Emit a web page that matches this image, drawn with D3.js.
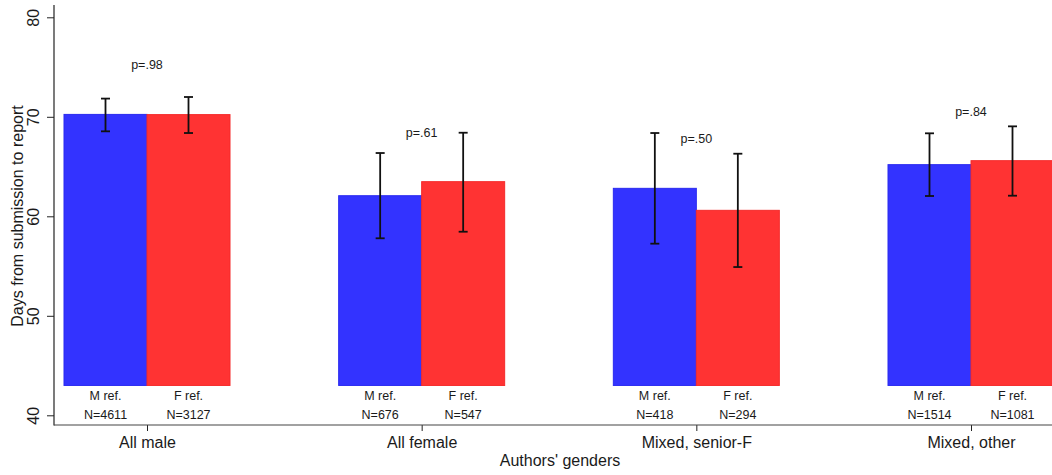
<!DOCTYPE html>
<html><head><meta charset="utf-8">
<script src="https://cdn.jsdelivr.net/npm/d3@7"></script>
<style>body{margin:0;background:#fff}svg{display:block}text{font-family:"Liberation Sans",Arial,sans-serif;fill:#1a1a1a}</style>
</head><body><svg id="c" width="1052" height="475"></svg>
<script>
const categories = ["All male","All female","Mixed, senior-F","Mixed, other"];
const refLabels = ["M ref.","F ref."];
const mRefMean = [70.24, 62.07, 62.81, 65.19];
const mRefLo   = [68.54, 57.79, 57.25, 62.04];
const mRefHi   = [71.83, 66.36, 68.37, 68.34];
const fRefMean = [70.22, 63.48, 60.60, 65.59];
const fRefLo   = [68.37, 58.45, 54.90, 62.07];
const fRefHi   = [71.99, 68.40, 66.29, 69.04];
const mRefN = [4611, 676, 418, 1514];
const fRefN = [3127, 547, 294, 1081];
const pLabels = ["p=.98","p=.61","p=.50","p=.84"];
const pLabelAt = [75.2, 68.4, 67.8, 70.5];
const yTicks = [40,50,60,70,80];
const barBase = 43;

const svg = d3.select("#c");
const y = d3.scaleLinear().domain([40,80]).range([415.3,17.3]);
const x = d3.scalePoint().domain(categories).range([147,971]);
const bw = 83;
const colors = ["#3333ff","#ff3333"];
const strokes = ["#2a2af0","#f52a2a"];

const series = [
  {mean:mRefMean, lo:mRefLo, hi:mRefHi, n:mRefN},
  {mean:fRefMean, lo:fRefLo, hi:fRefHi, n:fRefN}
];

// axes
const yAxis = d3.axisLeft(y).tickValues(yTicks).tickSize(7).tickPadding(5);
const gy = svg.append("g").attr("transform","translate(54,0)").call(yAxis);
gy.select(".domain").remove();
gy.selectAll(".tick line").attr("stroke","#222");
gy.selectAll(".tick text").attr("transform","rotate(-90)").attr("x",0).attr("y",-15)
  .attr("dy","0").style("text-anchor","middle").style("font-size","16px").attr("fill","#1a1a1a");
svg.append("line").attr("x1",54).attr("x2",54).attr("y1",5).attr("y2",425.5).attr("stroke","#222").attr("stroke-width",1.2);

const xAxis = d3.axisBottom(x).tickSize(6).tickPadding(6);
const gx = svg.append("g").attr("transform","translate(0,425)").call(xAxis);
gx.select(".domain").remove();
gx.selectAll(".tick line").attr("stroke","#222");
gx.selectAll(".tick text").style("font-size","16px").attr("fill","#1a1a1a");
svg.append("line").attr("x1",54).attr("x2",1052).attr("y1",425).attr("y2",425).attr("stroke","#444").attr("stroke-width",1.2);

// bars
series.forEach((s,si)=>{
  categories.forEach((c,i)=>{
    const x0 = x(c) + (si===0 ? -bw : 0);
    svg.append("rect").attr("x",x0).attr("width",bw)
      .attr("y",y(s.mean[i])).attr("height",y(barBase)-y(s.mean[i]))
      .attr("fill",colors[si]).attr("stroke",strokes[si]).attr("stroke-width",1);
    const cx = x0 + bw/2;
    const g = svg.append("g").attr("stroke","#111").attr("stroke-width",1.8);
    g.append("line").attr("x1",cx).attr("x2",cx).attr("y1",y(s.hi[i])).attr("y2",y(s.lo[i]));
    g.append("line").attr("x1",cx-4.5).attr("x2",cx+4.5).attr("y1",y(s.hi[i])).attr("y2",y(s.hi[i]));
    g.append("line").attr("x1",cx-4.5).attr("x2",cx+4.5).attr("y1",y(s.lo[i])).attr("y2",y(s.lo[i]));
    svg.append("text").attr("x",cx).attr("y",400).attr("text-anchor","middle").style("font-size","12.5px").text(refLabels[si]);
    svg.append("text").attr("x",cx).attr("y",419).attr("text-anchor","middle").style("font-size","12.5px").text("N="+s.n[i]);
  });
});

// p labels
categories.forEach((c,i)=>{
  svg.append("text").attr("x",x(c)).attr("y",y(pLabelAt[i])).attr("dy","0.35em")
    .attr("text-anchor","middle").style("font-size","12.5px").text(pLabels[i]);
});

// titles
svg.append("text").attr("x",560).attr("y",466).attr("text-anchor","middle").style("font-size","16px").text("Authors' genders");
svg.append("text").attr("transform","translate(23,216) rotate(-90)").attr("text-anchor","middle").style("font-size","16px").text("Days from submission to report");
</script></body></html>
